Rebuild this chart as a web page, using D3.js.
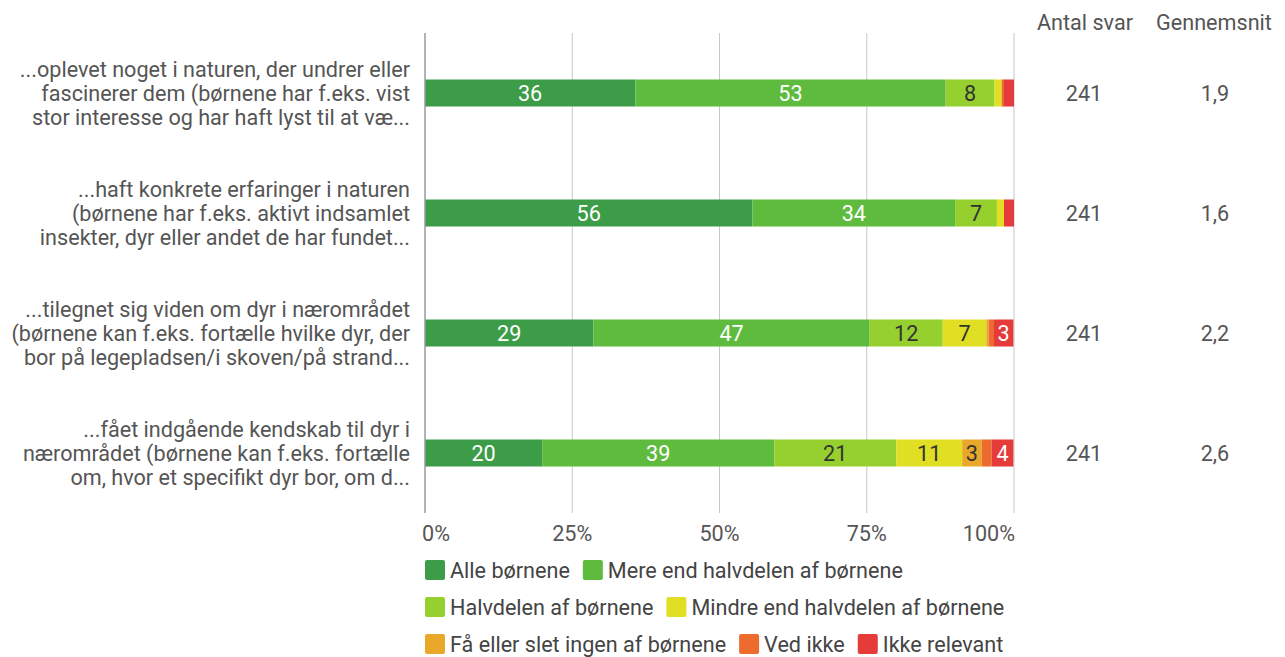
<!DOCTYPE html>
<html>
<head>
<meta charset="utf-8">
<script src="https://cdn.jsdelivr.net/npm/d3@7"></script>
<style>
  body { margin: 0; background: #fff; }
  svg text { font-family: Roboto, "Noto Sans", sans-serif; }
</style>
</head>
<body>
<div id="chart"></div>
<script>
// Questions (each split into lines as in the picture)
let questions = [
  ["...oplevet noget i naturen, der undrer eller", "fascinerer dem (børnene har f.eks. vist", "stor interesse og har haft lyst til at væ..."],
  ["...haft konkrete erfaringer i naturen", "(børnene har f.eks. aktivt indsamlet", "insekter, dyr eller andet de har fundet..."],
  ["...tilegnet sig viden om dyr i nærområdet", "(børnene kan f.eks. fortælle hvilke dyr, der", "bor på legepladsen/i skoven/på strand..."],
  ["...fået indgående kendskab til dyr i", "nærområdet (børnene kan f.eks. fortælle", "om, hvor et specifikt dyr bor, om d..."]
];

let seriesNames = ["Alle børnene", "Mere end halvdelen af børnene", "Halvdelen af børnene",
  "Mindre end halvdelen af børnene", "Få eller slet ingen af børnene", "Ved ikke", "Ikke relevant"];

// percent per series, one value per question
let alle    = [35.7, 55.6, 28.6, 19.9];
let mere    = [52.7, 34.4, 46.9, 39.4];
let halv    = [8.3, 7.1, 12.4, 20.7];
let mindre  = [1.2, 1.2, 7.4, 11.2];
let faa     = [0, 0, 0.4, 3.3];
let vedIkke = [0.4, 0, 0.9, 1.7];
let ikkeRel = [1.7, 1.7, 3.3, 3.7];

let antalSvar = [241, 241, 241, 241];
let gennemsnit = [1.9, 1.6, 2.2, 2.6];

let xTicks = [0, 25, 50, 75, 100];

let colors = ["#3d9c47", "#5fbb3e", "#96d02f", "#e1df24", "#e9a82a", "#ec6b2d", "#e63b3b"];
let labelColors = ["#fff", "#fff", "#333", "#333", "#333", "#333", "#fff"];

let values = [alle, mere, halv, mindre, faa, vedIkke, ikkeRel];

let W = 1285, H = 657;
let svg = d3.select("#chart").append("svg")
  .attr("width", W).attr("height", H);

let x = d3.scaleLinear().domain([0, 100]).range([425, 1014]);
let y = d3.scaleBand().domain(d3.range(questions.length))
  .range([33, 513]).paddingInner(0.775).paddingOuter(0.3875);

let textCol = "#555";
let fs = 21.6;

// gridlines
svg.append("g").selectAll("line")
  .data(xTicks.slice(1))
  .enter().append("line")
    .attr("x1", d => x(d)).attr("x2", d => x(d))
    .attr("y1", 33).attr("y2", 513)
    .attr("stroke", "#c8c8c8").attr("stroke-width", 1);

// tick labels
svg.append("g").selectAll("text")
  .data(xTicks)
  .enter().append("text")
    .attr("x", (d, i) => i == 0 ? x(d) - 3 : (i == xTicks.length - 1 ? x(d) + 1 : x(d)))
    .attr("y", 533)
    .attr("dy", "0.36em")
    .attr("text-anchor", (d, i) => i == 0 ? "start" : (i == xTicks.length - 1 ? "end" : "middle"))
    .attr("fill", textCol)
    .style("font-size", fs + "px")
    .text(d => d + "%");

// stacked bars
let rows = questions.map((q, i) => {
  let acc = 0;
  return values.map((s, k) => {
    let seg = {row: i, k: k, v: s[i], x0: acc, x1: acc + s[i]};
    acc += s[i];
    return seg;
  });
});
let segs = rows.flat().filter(d => d.v > 0);

svg.append("g").selectAll("rect")
  .data(segs)
  .enter().append("rect")
    .attr("x", d => x(d.x0))
    .attr("width", d => x(d.x1) - x(d.x0))
    .attr("y", d => y(d.row))
    .attr("height", y.bandwidth())
    .attr("fill", d => colors[d.k]);

svg.append("g").selectAll("text")
  .data(segs.filter(d => d.v >= 2.5))
  .enter().append("text")
    .attr("x", d => (x(d.x0) + x(d.x1)) / 2)
    .attr("y", d => y(d.row) + y.bandwidth() / 2)
    .attr("dy", "0.36em")
    .attr("text-anchor", "middle")
    .attr("fill", d => labelColors[d.k])
    .style("font-size", fs + "px")
    .text(d => Math.round(d.v));

// y axis line
svg.append("line")
  .attr("x1", x(0)).attr("x2", x(0))
  .attr("y1", 33).attr("y2", 513)
  .attr("stroke", "#9a9a9a").attr("stroke-width", 1.5);

// question labels
let qg = svg.append("g").selectAll("text")
  .data(questions)
  .enter().append("text")
    .attr("text-anchor", "end")
    .attr("fill", textCol)
    .style("font-size", fs + "px");
qg.selectAll("tspan")
  .data((d, i) => d.map((line, j) => ({line: line, row: i, j: j})))
  .enter().append("tspan")
    .attr("x", 410)
    .attr("y", d => y(d.row) + y.bandwidth() / 2 + (d.j - 1) * 24)
    .attr("dy", "0.36em")
    .text(d => d.line);

// right columns
let colAntal = 1085, colSnit = 1214;
svg.append("text").attr("x", colAntal).attr("y", 22).attr("dy", "0.36em")
  .attr("text-anchor", "middle").attr("fill", textCol).style("font-size", fs + "px")
  .text("Antal svar");
svg.append("text").attr("x", colSnit).attr("y", 22).attr("dy", "0.36em")
  .attr("text-anchor", "middle").attr("fill", textCol).style("font-size", fs + "px")
  .text("Gennemsnit");

svg.append("g").selectAll("text")
  .data(antalSvar)
  .enter().append("text")
    .attr("x", colAntal - 1)
    .attr("y", (d, i) => y(i) + y.bandwidth() / 2)
    .attr("dy", "0.36em")
    .attr("text-anchor", "middle").attr("fill", textCol).style("font-size", fs + "px")
    .text(d => d);

svg.append("g").selectAll("text")
  .data(gennemsnit)
  .enter().append("text")
    .attr("x", colSnit + 1)
    .attr("y", (d, i) => y(i) + y.bandwidth() / 2)
    .attr("dy", "0.36em")
    .attr("text-anchor", "middle").attr("fill", textCol).style("font-size", fs + "px")
    .text(d => d.toFixed(1).replace(".", ","));

// legend, flowing left to right and wrapping
let legend = svg.append("g");
let lx = 425, ly = 570, maxX = 1025;
seriesNames.forEach((name, k) => {
  let g = legend.append("g");
  g.append("rect")
    .attr("width", 20).attr("height", 20).attr("rx", 2)
    .attr("y", -10)
    .attr("fill", colors[k]);
  let t = g.append("text")
    .attr("x", 25).attr("dy", "0.36em")
    .attr("fill", "#444")
    .style("font-size", fs + "px")
    .text(name);
  let w = 25 + t.node().getComputedTextLength();
  if (lx + w > maxX) { lx = 425; ly += 37; }
  g.attr("transform", "translate(" + lx + "," + ly + ")");
  lx += w + 13;
});
</script>
</body>
</html>
